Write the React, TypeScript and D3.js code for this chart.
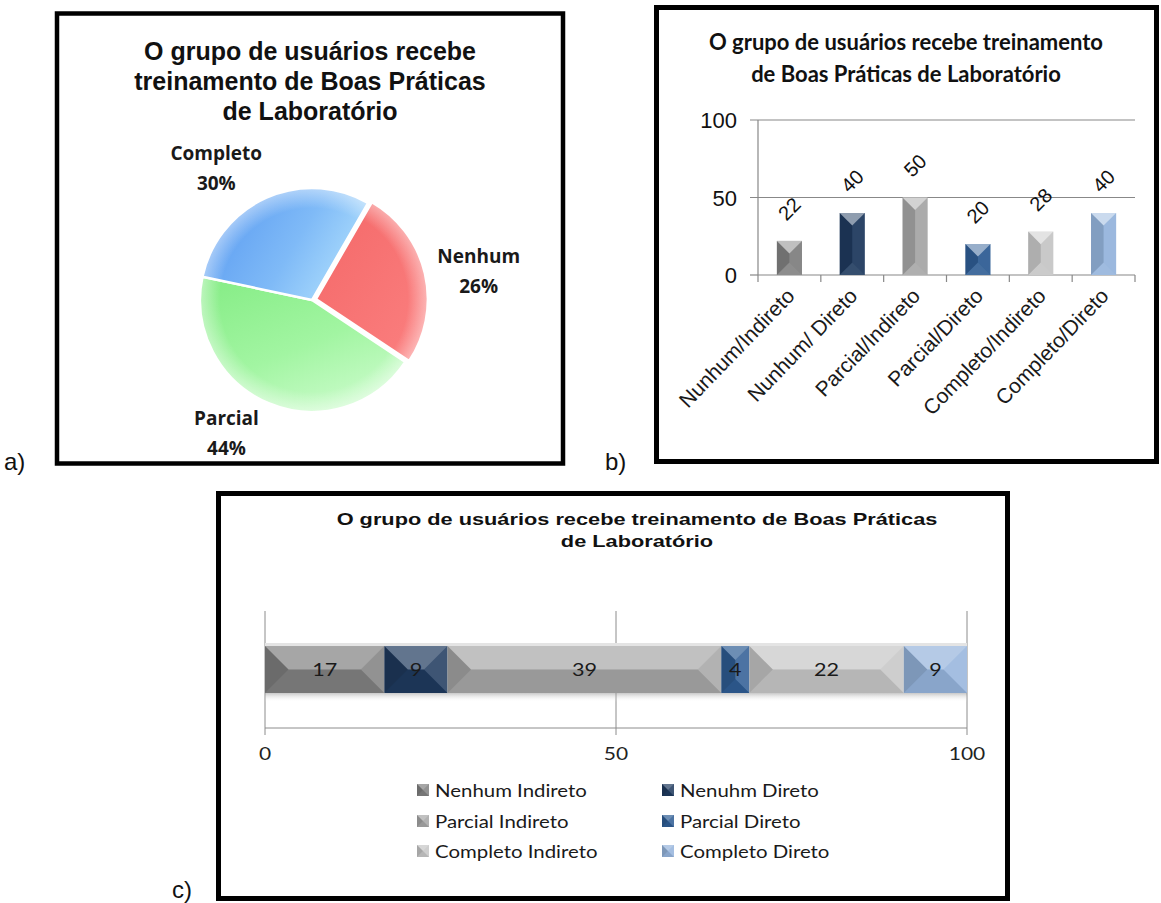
import React from 'react';
import * as d3 from 'd3';

// ---- data ----
const pieCategories = ['Nenhum', 'Parcial', 'Completo'];
const pieValues = [26, 44, 30];

const barCategories = [
  'Nunhum/Indireto',
  'Nunhum/ Direto',
  'Parcial/Indireto',
  'Parcial/Direto',
  'Completo/Indireto',
  'Completo/Direto',
];
const barValues = [22, 40, 50, 20, 28, 40];
const barTicks = [0, 50, 100];

const stackSeries = [
  'Nenhum Indireto',
  'Nenuhm Direto',
  'Parcial Indireto',
  'Parcial Direto',
  'Completo Indireto',
  'Completo Direto',
];
const stackValues = [17, 9, 39, 4, 22, 9];
const stackTicks = [0, 50, 100];

const titleA = ['O grupo de usuários recebe', 'treinamento de Boas Práticas', 'de Laboratório'];
const titleB = ['O grupo de usuários recebe treinamento', 'de Boas Práticas de Laboratório'];
const titleC = ['O grupo de usuários recebe treinamento de Boas Práticas', 'de Laboratório'];

// ---- styles ----
const seriesColors = ['#808080', '#1f3a5e', '#a6a6a6', '#2f5d94', '#c6c6c6', '#95b4dc'];
const pieFills = ['url(#pieRed)', 'url(#pieGreen)', 'url(#pieBlue)'];
// hand-placed offsets for the pie data labels (dx, dy), like dragged labels
const pieLabelNudge: [number, number][] = [
  [7, 6],
  [-22, -9],
  [-29, 9],
];
const ARIAL = '"Liberation Sans", Arial, sans-serif';
const LATO = 'Lato, "Open Sans", sans-serif';
const OPEN = '"Open Sans", "Noto Sans", sans-serif';

type Shade = { top: [string, number]; bottom: [string, number]; left: [string, number]; right: [string, number] };

const barShade: Shade = {
  top: ['#ffffff', 0.5],
  bottom: ['#ffffff', 0.1],
  left: ['#000000', 0.12],
  right: ['#ffffff', 0.06],
};
const stackShade: Shade = {
  top: ['#ffffff', 0.3],
  bottom: ['#000000', 0.08],
  left: ['#000000', 0.16],
  right: ['#ffffff', 0.14],
};

function BevelRect({ x0, y0, x1, y1, fill, depth, shade }: {
  x0: number; y0: number; x1: number; y1: number; fill: string; depth: number; shade: Shade;
}) {
  const d = Math.min(depth, (x1 - x0) / 2, (y1 - y0) / 2);
  const faces: [number[][], [string, number]][] = [
    [[[x0, y0], [x1, y0], [x1 - d, y0 + d], [x0 + d, y0 + d]], shade.top],
    [[[x0, y1], [x1, y1], [x1 - d, y1 - d], [x0 + d, y1 - d]], shade.bottom],
    [[[x0, y0], [x0 + d, y0 + d], [x0 + d, y1 - d], [x0, y1]], shade.left],
    [[[x1, y0], [x1 - d, y0 + d], [x1 - d, y1 - d], [x1, y1]], shade.right],
  ];
  return (
    <g>
      <rect x={x0} y={y0} width={x1 - x0} height={y1 - y0} fill={fill} />
      {faces.map(([pts, [c, o]], i) => (
        <polygon key={i} points={pts.map((p) => p.join(',')).join(' ')} fill={c} fillOpacity={o} />
      ))}
    </g>
  );
}

// ---- panel a: pie ----
function PiePanel() {
  const cx = 312;
  const cy = 300;
  const r = 112;
  const start = (30 * Math.PI) / 180;
  const arcs = d3
    .pie<number>()
    .sort(null)
    .startAngle(start)
    .endAngle(start + 2 * Math.PI)(pieValues);
  const arc = d3.arc<d3.PieArcDatum<number>>().innerRadius(0).outerRadius(r);
  const total = d3.sum(pieValues);
  return (
    <g>
      <rect x={57} y={13.5} width={506} height={450} fill="#fff" stroke="#000" strokeWidth={4.5} />
      {titleA.map((t, i) => (
        <text key={i} x={310} y={60 + i * 30} textAnchor="middle" fontFamily={ARIAL} fontWeight="bold" fontSize={25} fill="#111">
          {t}
        </text>
      ))}
      <g transform={`translate(${cx},${cy})`}>
        {arcs.map((a, i) => {
          const mid = (a.startAngle + a.endAngle) / 2;
          const explode = i === 0 ? 4 : 0;
          const dx = Math.sin(mid) * explode;
          const dy = -Math.cos(mid) * explode;
          return (
            <g key={i} transform={`translate(${dx},${dy})`}>
              <path d={arc(a) || ''} fill={pieFills[i]} stroke="#fff" strokeWidth={2.5} strokeLinejoin="round" />
              <path d={arc(a) || ''} fill="url(#pieRim)" />
            </g>
          );
        })}
        {arcs.map((a, i) => {
          const mid = (a.startAngle + a.endAngle) / 2;
          const ux = Math.sin(mid);
          const uy = -Math.cos(mid);
          const R = r + 12;
          const lx = ux * R + ux * 40 + pieLabelNudge[i][0];
          const ly = uy * R + uy * 30 + pieLabelNudge[i][1];
          const pct = Math.round((pieValues[i] / total) * 100);
          return (
            <g key={'l' + i} fontFamily={OPEN} fontWeight="bold" fontSize={19} fill="#1a1a1a" textAnchor="middle">
              <text x={lx} y={ly - 8}>{pieCategories[i]}</text>
              <text x={lx} y={ly + 22}>{pct}%</text>
            </g>
          );
        })}
      </g>
    </g>
  );
}

// ---- panel b: column chart ----
function BarPanel() {
  const x = d3.scaleBand<string>().domain(barCategories).range([758, 1135]).paddingInner(0.6).paddingOuter(0.3);
  const y = d3.scaleLinear().domain([0, 100]).range([275, 120]);
  const step = x.step();
  const x0 = x.range()[0];
  const boundaries = d3.range(barCategories.length + 1).map((i) => x0 + i * step);
  return (
    <g>
      <rect x={656.5} y={7.5} width={500} height={454} fill="#fff" stroke="#000" strokeWidth={5} />
      {titleB.map((t, i) => (
        <text key={i} x={906} y={50 + i * 32} textAnchor="middle" fontFamily={LATO} fontWeight="bold" fontSize={22} fill="#111">
          {t}
        </text>
      ))}
      {barTicks.map((t) => (
        <g key={t}>
          <line x1={750} x2={t === 0 ? 758 : 1135} y1={y(t)} y2={y(t)} stroke="#888" strokeWidth={1.2} />
          <text x={737} y={y(t) + 8} textAnchor="end" fontFamily={ARIAL} fontSize={22} fill="#111">
            {t}
          </text>
        </g>
      ))}
      <line x1={758} x2={758} y1={y(100)} y2={y(0)} stroke="#888" strokeWidth={1.2} />
      <line x1={758} x2={1135} y1={y(0)} y2={y(0)} stroke="#888" strokeWidth={1.2} />
      {boundaries.map((bx, i) => (
        <line key={i} x1={bx} x2={bx} y1={y(0)} y2={y(0) + 7} stroke="#888" strokeWidth={1.2} />
      ))}
      {barCategories.map((c, i) => {
        const bx = x(c)!;
        const bw = x.bandwidth();
        const cxm = bx + bw / 2;
        const top = y(barValues[i]);
        return (
          <g key={c}>
            <BevelRect x0={bx} y0={top} x1={bx + bw} y1={y(0)} fill={seriesColors[i]} depth={bw / 2} shade={barShade} />
            <text
              transform={`translate(${cxm},${top - 32}) rotate(-45)`}
              textAnchor="middle"
              dominantBaseline="central"
              fontFamily={ARIAL}
              fontSize={20}
              fill="#111"
            >
              {barValues[i]}
            </text>
            <text
              transform={`translate(${cxm + 1},${y(0) + 17}) rotate(-46)`}
              textAnchor="end"
              dominantBaseline="central"
              fontFamily={ARIAL}
              fontSize={21}
              fill="#1a1a1a"
            >
              {c}
            </text>
          </g>
        );
      })}
    </g>
  );
}

// ---- panel c: stacked horizontal bar ----
function StackPanel() {
  const x = d3.scaleLinear().domain([0, 100]).range([265, 967]);
  const band = d3.scaleBand<string>().domain(['total']).range([611, 728]).padding(0.427);
  const y0 = band('total')!;
  const y1 = y0 + band.bandwidth();
  const ends = d3.cumsum(stackValues);
  const starts = ends.map((e, i) => e - stackValues[i]);
  const sx = 1.2;
  const legendCols = [417, 662];
  const legendRows = [790, 821, 851];
  return (
    <g>
      <rect x={218.5} y={493.5} width={789} height={405} fill="#fff" stroke="#000" strokeWidth={5} />
      {titleC.map((t, i) => (
        <g key={i} transform={`translate(637,${525 + i * 22}) scale(1.28,1)`}>
          <text textAnchor="middle" fontFamily={ARIAL} fontWeight="bold" fontSize={17} fill="#111">
            {t}
          </text>
        </g>
      ))}
      {stackTicks.map((t) => (
        <g key={t}>
          <line x1={x(t)} x2={x(t)} y1={611} y2={735} stroke="#8c8c8c" strokeWidth={1} />
          <g transform={`translate(${x(t)},760) scale(${sx},1)`}>
            <text textAnchor="middle" fontFamily={LATO} fontSize={17.5} fill="#222">
              {t}
            </text>
          </g>
        </g>
      ))}
      <line x1={x(0)} x2={x(100)} y1={728} y2={728} stroke="#8c8c8c" strokeWidth={1} />
      <rect x={x(0)} y={y1} width={x(100) - x(0)} height={9} fill="url(#barShadow)" />
      <rect x={x(0)} y={y0 - 3} width={x(100) - x(0)} height={3} fill="#e4e4e4" />
      {stackValues.map((v, i) => {
        const a = x(starts[i]);
        const b = x(ends[i]);
        return (
          <g key={i}>
            <BevelRect x0={a} y0={y0} x1={b} y1={y1} fill={seriesColors[i]} depth={(y1 - y0) / 2} shade={stackShade} />
            <g transform={`translate(${(a + b) / 2},${(y0 + y1) / 2 + 6.5}) scale(${sx},1)`}>
              <text textAnchor="middle" fontFamily={LATO} fontSize={18} fill="#1a1a1a">
                {v}
              </text>
            </g>
          </g>
        );
      })}
      {stackSeries.map((s, i) => {
        const lx = legendCols[i % 2];
        const ly = legendRows[Math.floor(i / 2)];
        return (
          <g key={s}>
            <BevelRect x0={lx} y0={ly - 6} x1={lx + 12} y1={ly + 6} fill={seriesColors[i]} depth={6} shade={stackShade} />
            <g transform={`translate(${lx + 18},${ly + 6.5}) scale(${sx},1)`}>
              <text fontFamily={LATO} fontSize={17} fill="#1a1a1a">
                {s}
              </text>
            </g>
          </g>
        );
      })}
    </g>
  );
}

export default function App() {
  return (
    <svg
      width={1161}
      height={903}
      viewBox="0 0 1161 903"
      style={{ position: 'absolute', left: 0, top: 0, background: '#fff' }}
    >
      <defs>
        <linearGradient id="pieBlue" x1="0" y1="0.3" x2="1" y2="0.7">
          <stop offset="0" stopColor="#5a9bf1" />
          <stop offset="0.55" stopColor="#7fbaf7" />
          <stop offset="1" stopColor="#b2e1fd" />
        </linearGradient>
        <linearGradient id="pieRed" x1="0" y1="0" x2="1" y2="1">
          <stop offset="0" stopColor="#f46868" />
          <stop offset="1" stopColor="#fb8080" />
        </linearGradient>
        <linearGradient id="pieGreen" x1="0" y1="0" x2="0.6" y2="1">
          <stop offset="0" stopColor="#84ec84" />
          <stop offset="0.6" stopColor="#a2f5a2" />
          <stop offset="1" stopColor="#c6fbc6" />
        </linearGradient>
        <radialGradient id="pieRim" cx="0" cy="0" r="112" gradientUnits="userSpaceOnUse">
          <stop offset="0.82" stopColor="#fff" stopOpacity="0" />
          <stop offset="1" stopColor="#fff" stopOpacity="0.45" />
        </radialGradient>
        <linearGradient id="barShadow" x1="0" y1="0" x2="0" y2="1">
          <stop offset="0" stopColor="#9a9a9a" stopOpacity="0.55" />
          <stop offset="1" stopColor="#ffffff" stopOpacity="0" />
        </linearGradient>
      </defs>
      <rect width={1161} height={903} fill="#fff" />
      <PiePanel />
      <BarPanel />
      <StackPanel />
      <g fontFamily={ARIAL} fontSize={24} fill="#111">
        <text x={4} y={470}>a)</text>
        <text x={605} y={470}>b)</text>
        <text x={172} y={898}>c)</text>
      </g>
    </svg>
  );
}
